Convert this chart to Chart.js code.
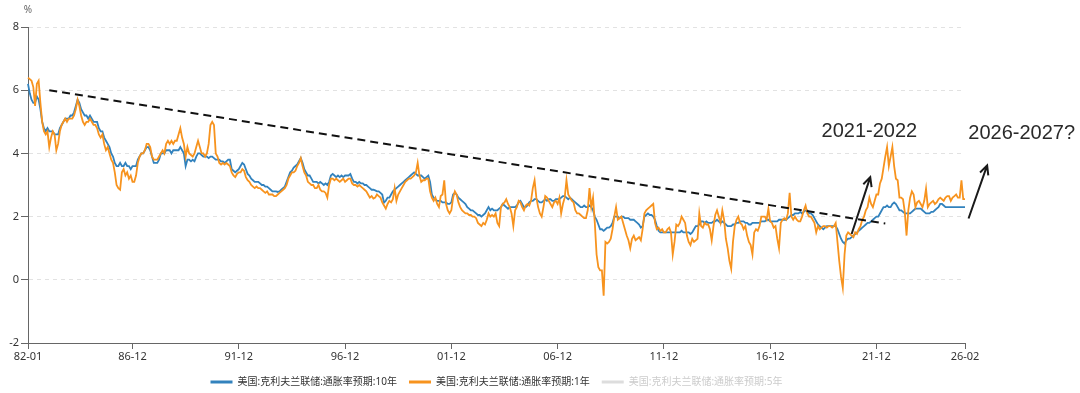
<!DOCTYPE html>
<html lang="zh">
<head>
<meta charset="UTF-8">
<title>克利夫兰联储通胀率预期</title>
<script src="https://cdn.jsdelivr.net/npm/chart.js"></script>
<style>
    html, body { margin: 0; padding: 0; background: #fff; }
    .chart-box { position: relative; width: 1080px; height: 393px; }
</style>
</head>
<body>
<div class="chart-box"><canvas id="inflChart"></canvas></div>
<script>
// monthly, 1982-01 .. 2026-02
const firstYear = 1982;
const monthCount = 530;
const seriesNames = ['美国:克利夫兰联储:通胀率预期:10年', '美国:克利夫兰联储:通胀率预期:1年', '美国:克利夫兰联储:通胀率预期:5年'];
const tickLabels = ['82-01', '86-12', '91-12', '96-12', '01-12', '06-12', '11-12', '16-12', '21-12', '26-02'];
const trendLine = [{ x: '83-01', y: 6.0 }, { x: '22-05', y: 1.78 }];

const expect10y = [
    6.2, 5.9, 5.7, 5.6, 5.6, 5.8, 5.7, 5.4, 5.0, 4.8, 4.7, 4.8,
    4.7, 4.7, 4.7, 4.6, 4.6, 4.6, 4.8, 4.9, 5.0, 5.1, 5.1, 5.1,
    5.2, 5.2, 5.3, 5.5, 5.7, 5.6, 5.4, 5.3, 5.2, 5.2, 5.1, 5.2,
    5.1, 5.0, 5.0, 5.0, 4.8, 4.7, 4.7, 4.5, 4.4, 4.3, 4.2, 4.0,
    3.9, 3.7, 3.6, 3.6, 3.7, 3.6, 3.6, 3.7, 3.6, 3.6, 3.5, 3.6,
    3.6, 3.6, 3.8, 3.9, 4.0, 4.0, 4.1, 4.2, 4.2, 4.1, 3.9, 3.7,
    3.7, 3.7, 3.8, 4.0, 4.0, 4.0, 4.1, 4.1, 4.1, 4.0, 4.1, 4.1,
    4.1, 4.1, 4.2, 4.1, 4.0, 3.6, 3.8, 3.8, 3.75, 3.8, 3.75, 3.9,
    4.0, 4.0, 3.95, 3.9, 3.9, 3.9, 3.85, 3.9, 3.9, 3.85, 3.8, 3.8,
    3.8, 3.75, 3.75, 3.7, 3.75, 3.8, 3.8, 3.5, 3.45, 3.4, 3.45, 3.5,
    3.6, 3.7, 3.65, 3.5, 3.35, 3.3, 3.2, 3.15, 3.1, 3.1, 3.1, 3.05,
    3.0, 3.0, 2.95, 2.95, 2.9, 2.85, 2.8, 2.8, 2.8, 2.78, 2.8, 2.85,
    2.9, 2.95, 3.1, 3.25, 3.4, 3.45, 3.55, 3.6, 3.65, 3.75, 3.85, 3.7,
    3.5, 3.4, 3.3, 3.3, 3.2, 3.1, 3.1, 3.1, 3.05, 3.1, 3.05, 3.0,
    3.05, 3.0, 3.1, 3.3, 3.35, 3.3, 3.25, 3.3, 3.25, 3.3, 3.25, 3.3,
    3.3, 3.3, 3.35, 3.2, 3.1, 3.1, 3.05, 3.1, 3.05, 3.05, 3.0, 3.0,
    2.95, 2.9, 2.85, 2.85, 2.83, 2.8, 2.8, 2.75, 2.7, 2.44, 2.5, 2.6,
    2.6, 2.7, 2.8, 2.85, 2.9, 2.95, 3.0, 3.05, 3.1, 3.15, 3.2, 3.25,
    3.3, 3.35, 3.4, 3.35, 3.3, 3.3, 3.3, 3.25, 3.2, 3.25, 3.3, 3.1,
    2.7, 2.6, 2.55, 2.5, 2.5, 2.5, 2.45, 2.45, 2.45, 2.4, 2.4, 2.45,
    2.7, 2.75, 2.7, 2.6, 2.55, 2.5, 2.45, 2.4, 2.3, 2.25, 2.2, 2.2,
    2.15, 2.1, 2.05, 2.05, 2.0, 2.05, 2.1, 2.2, 2.3, 2.2, 2.25, 2.2,
    2.2, 2.2, 2.25, 2.3, 2.4, 2.35, 2.3, 2.25, 2.3, 2.3, 2.3, 2.3,
    2.35, 2.45, 2.5, 2.4, 2.3, 2.3, 2.35, 2.45, 2.5, 2.5, 2.55, 2.55,
    2.5, 2.45, 2.45, 2.5, 2.55, 2.5, 2.55, 2.55, 2.5, 2.5, 2.55, 2.55,
    2.55, 2.6, 2.65, 2.65, 2.6, 2.55, 2.6, 2.55, 2.5, 2.45, 2.4, 2.35,
    2.3, 2.3, 2.35, 2.3, 2.3, 2.35, 2.3, 2.2, 2.0, 1.9, 1.75, 1.6,
    1.6, 1.55, 1.6, 1.65, 1.65, 1.7, 1.8, 2.0, 2.0, 2.0, 1.95, 2.0,
    2.0, 1.95, 1.95, 1.95, 1.9, 1.9, 1.9, 1.85, 1.8, 1.75, 1.65, 1.7,
    2.0, 2.05, 2.1, 2.05, 2.05, 2.0, 1.9, 1.7, 1.55, 1.5, 1.5, 1.5,
    1.5, 1.5, 1.5, 1.5, 1.5, 1.5, 1.5, 1.5, 1.5, 1.55, 1.5, 1.5,
    1.5, 1.5, 1.45, 1.5, 1.6, 1.7, 1.7, 1.75, 1.85, 1.85, 1.8, 1.85,
    1.8, 1.8, 1.8, 1.85, 1.85, 1.9, 1.85, 1.8, 1.85, 1.8, 1.75, 1.7,
    1.7, 1.7, 1.75, 1.75, 1.8, 1.8, 1.85, 1.85, 1.85, 1.8, 1.8, 1.75,
    1.75, 1.8, 1.8, 1.8, 1.8, 1.8, 1.85, 1.85, 1.85, 1.9, 1.9, 1.85,
    1.85, 1.85, 1.85, 1.85, 1.9, 1.9, 1.9, 1.9, 1.9, 1.95, 2.0, 2.05,
    2.05, 2.1, 2.1, 2.1, 2.15, 2.1, 2.15, 2.2, 2.2, 2.1, 2.1, 2.05,
    1.95, 1.85, 1.75, 1.7, 1.65, 1.6, 1.65, 1.7, 1.7, 1.7, 1.7, 1.7,
    1.7, 1.6, 1.45, 1.3, 1.2, 1.15, 1.25, 1.3, 1.3, 1.35, 1.4, 1.45,
    1.5, 1.55, 1.6, 1.65, 1.7, 1.75, 1.8, 1.8, 1.85, 1.9, 1.95, 2.0,
    2.0, 2.1, 2.2, 2.3, 2.3, 2.35, 2.3, 2.3, 2.4, 2.45, 2.4, 2.3,
    2.2, 2.2, 2.15, 2.1, 2.1, 2.1, 2.1, 2.15, 2.2, 2.25, 2.25, 2.25,
    2.25, 2.2, 2.15, 2.1, 2.1, 2.1, 2.15, 2.15, 2.2, 2.25, 2.3, 2.4,
    2.4, 2.35, 2.3, 2.3, 2.3, 2.3, 2.3, 2.3, 2.3, 2.3, 2.3, 2.3,
    2.3, 2.3
];

const expect1y = [
    6.4, 6.35, 6.3, 6.1, 5.5, 6.2, 6.3, 5.6, 5.0, 4.7, 4.6, 4.7,
    4.2, 4.5, 4.7, 4.6, 4.1, 4.3, 4.7, 4.9, 5.0, 5.1, 5.0, 5.1,
    5.1, 5.1, 5.2, 5.4, 5.7, 5.5, 5.2, 5.0, 4.9, 5.0, 5.0, 5.1,
    5.0, 4.9, 4.9, 4.8, 4.6, 4.5, 4.6, 4.3, 4.1, 4.2, 4.0, 3.8,
    3.7, 3.4, 3.0, 2.9, 2.85, 3.4, 3.5, 3.3, 3.4, 3.2, 3.3, 3.1,
    3.1, 3.3, 3.7, 3.9, 4.0, 4.0, 4.1, 4.3, 4.3, 4.2, 3.9, 3.8,
    3.8, 3.8, 3.9, 4.0, 4.1, 4.0, 4.3, 4.4, 4.3, 4.4, 4.3, 4.4,
    4.4, 4.6, 4.8, 4.5, 4.3, 3.9, 4.2, 4.0, 3.95, 3.9, 4.0, 4.2,
    4.4, 4.2, 4.0, 4.0, 3.9, 4.0, 4.3, 4.9, 5.0, 4.9, 4.0, 3.9,
    3.7, 3.65, 3.7, 3.65, 3.7, 3.65, 3.6, 3.4, 3.3, 3.25, 3.35, 3.4,
    3.4, 3.5, 3.45, 3.25, 3.15, 3.1, 3.0, 2.95, 2.9, 2.95, 2.9, 2.9,
    2.85, 2.8, 2.75, 2.8, 2.7, 2.7, 2.7, 2.65, 2.65, 2.7, 2.75, 2.8,
    2.85, 2.9, 3.0, 3.2, 3.3, 3.4, 3.4, 3.45, 3.6, 3.7, 3.85, 3.6,
    3.4, 3.3, 3.1, 3.05, 3.0, 3.0, 2.9, 2.9, 3.0, 2.85, 2.8, 2.8,
    2.75, 2.6, 3.0, 3.2, 3.2, 3.15, 3.2, 3.15, 3.1, 3.15, 3.2, 3.1,
    3.15, 3.2, 3.2, 3.05, 3.0, 3.0, 2.95, 3.0, 2.95, 2.9, 2.85, 2.8,
    2.7, 2.6, 2.65, 2.57, 2.6, 2.7, 2.65, 2.6, 2.45, 2.35, 2.25, 2.4,
    2.5, 2.45, 2.55, 2.9, 2.5, 2.7, 2.8, 2.9, 3.0, 3.1, 3.15, 3.2,
    3.2, 3.25, 3.3, 3.4, 3.7, 3.3, 3.1, 3.15, 3.15, 3.2, 3.2, 2.8,
    2.6, 2.5, 2.6, 2.4, 2.3, 2.65, 2.7, 3.15, 2.4, 2.2, 2.1, 2.2,
    2.6, 2.8, 2.7, 2.45, 2.3, 2.2, 2.15, 2.1, 2.1, 2.05, 2.05, 2.0,
    2.0, 1.95, 1.8, 1.75, 1.7, 1.8, 1.75, 1.9, 2.1, 2.0, 2.05, 2.0,
    2.1, 1.8, 1.7, 2.3, 2.4, 2.45, 2.55, 2.4, 2.3, 2.1, 1.7, 2.2,
    2.3, 2.5, 2.45, 2.3, 2.2, 2.35, 2.4, 2.35, 2.5, 2.9, 3.15, 2.6,
    2.3, 2.1, 2.0, 2.3, 2.65, 2.6, 2.5, 2.4, 2.3, 2.45, 2.5, 2.4,
    2.6, 2.1, 2.4, 2.6, 3.15, 2.7, 2.6, 2.5, 2.45, 2.2, 2.1, 2.1,
    2.05, 2.0, 1.95, 1.95, 2.2, 2.9, 2.3, 2.6, 1.8, 0.8, 0.4, 0.3,
    0.3, -0.5, 1.2, 1.15, 1.2, 1.3, 1.6, 2.0, 2.3, 1.9, 1.95, 2.0,
    1.8, 1.6, 1.4, 1.25, 1.0, 1.3, 1.4, 1.25, 1.3, 1.35, 1.25, 1.6,
    2.1, 2.2, 2.25, 2.3, 2.35, 2.4, 1.8, 1.6, 1.65, 1.55, 1.6, 1.5,
    1.5, 1.6, 1.65, 1.5, 0.8, 1.2, 1.75, 1.7, 1.8, 2.0, 1.9, 1.8,
    1.4, 1.2, 1.1, 1.3, 1.2, 1.25, 1.3, 2.1, 1.7, 1.65, 1.8, 1.75,
    1.75, 1.6, 1.25, 1.7, 2.05, 2.2, 2.0, 1.8, 2.2, 1.9, 1.3, 1.0,
    0.6, 0.35, 1.2, 1.7, 1.9, 2.0, 1.8, 1.75, 1.6, 1.7, 1.4, 1.2,
    1.1, 0.8, 1.5, 1.6, 1.55, 1.7, 2.0, 2.0, 2.0, 1.9, 2.25, 1.85,
    1.8, 1.65, 1.7, 1.3, 1.0, 1.8, 1.9, 1.95, 1.9, 2.1, 2.75, 2.0,
    1.9, 2.0, 1.9, 1.85, 1.85, 2.0, 2.2, 2.35, 2.1, 2.0, 2.0, 1.9,
    1.8, 1.5, 1.7, 1.6, 1.65, 1.7, 1.7, 1.65, 1.7, 1.7, 1.65, 1.7,
    1.8, 1.2, 0.6, 0.1, -0.25, 0.8, 1.4, 1.5, 1.45, 1.4, 1.35, 1.5,
    1.45, 1.6, 1.7, 1.9, 2.0, 2.2, 2.3, 2.6, 2.4, 2.3, 2.5, 2.7,
    2.7, 3.05, 3.2, 3.55, 3.9, 4.2, 3.6, 3.9, 4.2, 3.6, 3.2, 3.15,
    2.6, 2.6, 2.55, 2.15, 1.4, 2.2, 2.6, 2.8, 2.7, 2.3, 2.45, 2.5,
    2.4, 2.3, 2.5, 2.88, 2.3, 2.4, 2.45, 2.5, 2.4, 2.45, 2.55, 2.6,
    2.55, 2.5, 2.6, 2.65, 2.65, 2.5, 2.6, 2.65, 2.7, 2.6, 2.6, 3.15,
    2.55, 2.55
];

// month labels "YY-MM"
const months = [];
for (let i = 0; i < monthCount; i++) {
    const yy = (firstYear + Math.floor(i / 12)) % 100;
    const mm = i % 12 + 1;
    months.push(String(yy).padStart(2, '0') + '-' + String(mm).padStart(2, '0'));
}

// hand-drawn marks on the original picture, in (month index, value)
const arrows = [
    [[465, 1.45], [475.5, 3.25]],
    [[531, 1.94], [541.5, 3.62]]
];
const notes = [
    { text: '2021-2022', at: [475, 4.7] },
    { text: '2026-2027?', at: [561, 4.62] }
];

const notePlugin = {
    id: 'notes',
    afterDatasetsDraw(chart) {
        const { ctx, scales: { x, y } } = chart;
        ctx.save();
        ctx.strokeStyle = '#1a1a1a';
        ctx.lineWidth = 2;
        arrows.forEach(([a, b]) => {
            const x1 = x.getPixelForValue(a[0]), y1 = y.getPixelForValue(a[1]);
            const x2 = x.getPixelForValue(b[0]), y2 = y.getPixelForValue(b[1]);
            const ang = Math.atan2(y2 - y1, x2 - x1);
            ctx.beginPath();
            ctx.moveTo(x1, y1);
            ctx.lineTo(x2, y2);
            ctx.moveTo(x2 - 10 * Math.cos(ang - 0.45), y2 - 10 * Math.sin(ang - 0.45));
            ctx.lineTo(x2, y2);
            ctx.lineTo(x2 - 10 * Math.cos(ang + 0.45), y2 - 10 * Math.sin(ang + 0.45));
            ctx.stroke();
        });
        ctx.fillStyle = '#2a2a2a';
        ctx.font = '20px "Liberation Sans", Arial, sans-serif';
        ctx.textAlign = 'center';
        ctx.textBaseline = 'middle';
        notes.forEach(n => {
            ctx.fillText(n.text, x.getPixelForValue(n.at[0]), y.getPixelForValue(n.at[1]));
        });
        // unit label above the y axis
        ctx.font = '10px "Noto Sans", sans-serif';
        ctx.fillStyle = '#666';
        ctx.fillText('%', y.right, y.top - 17);
        ctx.restore();
    }
};

Chart.defaults.font.family = '"Noto Sans", "Noto Sans CJK SC", sans-serif';

new Chart(document.getElementById('inflChart'), {
    type: 'line',
    data: {
        labels: months,
        datasets: [
            { label: seriesNames[0], data: expect10y, borderColor: '#3282bd', backgroundColor: '#3282bd', borderWidth: 1.8, order: 2 },
            { label: seriesNames[1], data: expect1y, borderColor: '#f7931e', backgroundColor: '#f7931e', borderWidth: 1.8, order: 1 },
            { label: seriesNames[2], data: [], borderColor: '#cccccc', backgroundColor: '#cccccc', hidden: true, order: 3 },
            { label: 'trend', data: trendLine, borderColor: '#111', borderWidth: 2, borderDash: [8, 5], order: 0 }
        ]
    },
    options: {
        animation: false,
        responsive: true,
        maintainAspectRatio: false,
        layout: { padding: { top: 27, right: 115, left: 0, bottom: -4 } },
        elements: { point: { radius: 0 }, line: { tension: 0 } },
        plugins: {
            tooltip: { enabled: false },
            legend: {
                position: 'bottom',
                fullSize: false,
                labels: {
                    boxWidth: 22,
                    boxHeight: 3,
                    padding: 12,
                    color: '#333',
                    font: { size: 10 },
                    generateLabels(chart) {
                        const items = Chart.defaults.plugins.legend.labels.generateLabels(chart);
                        return items
                            .filter(it => it.datasetIndex < 3)
                            .sort((a, b) => a.datasetIndex - b.datasetIndex)
                            .map(it => {
                                const muted = it.hidden;
                                it.hidden = false;
                                it.lineWidth = 0;
                                it.fontColor = muted ? '#cccccc' : '#333';
                                it.fillStyle = muted ? '#dddddd' : it.strokeStyle;
                                return it;
                            });
                    }
                }
            }
        },
        scales: {
            x: {
                type: 'category',
                offset: false,
                afterBuildTicks(axis) {
                    axis.ticks = tickLabels.map(l => ({ value: months.indexOf(l) }));
                },
                afterFit(s) { s.height = 22; },
                ticks: {
                    autoSkip: false,
                    maxRotation: 0,
                    color: '#333',
                    font: { size: 11 },
                    padding: 1,
                    callback(v) { return months[v]; }
                },
                grid: { drawOnChartArea: false, tickLength: 6, tickColor: '#666' },
                border: { color: '#666' }
            },
            y: {
                min: -2,
                max: 8,
                afterFit(s) { s.width = 28; },
                ticks: { stepSize: 2, color: '#333', font: { size: 11 }, padding: 2 },
                grid: { color: '#e2e2e2', tickLength: 7, tickColor: '#666' },
                border: { color: '#666', dash: [4, 4] }
            }
        }
    },
    plugins: [notePlugin]
});
</script>
</body>
</html>
